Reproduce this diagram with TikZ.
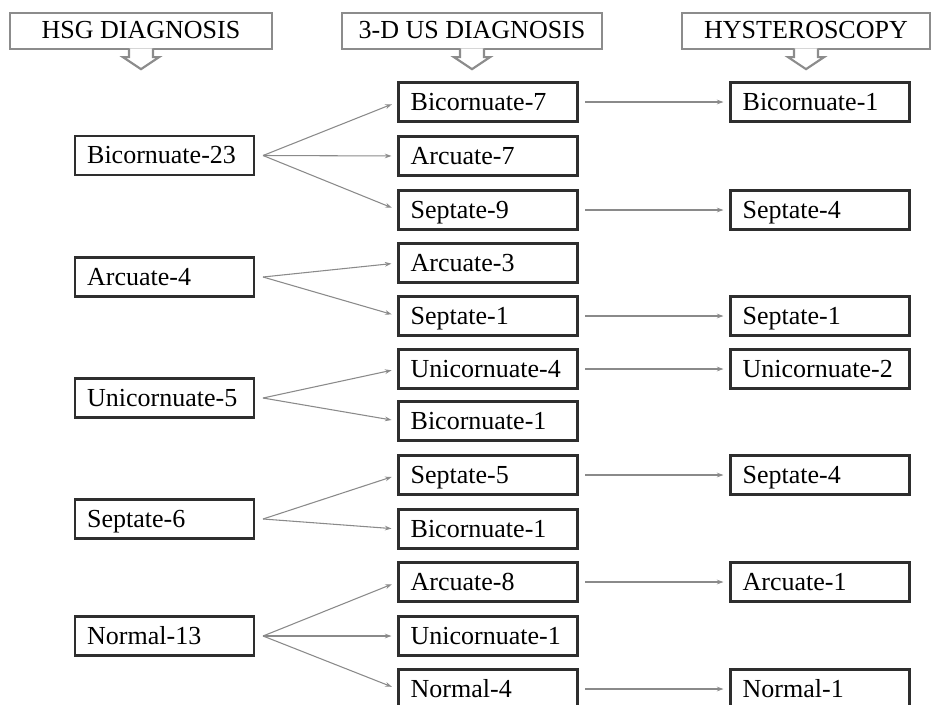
\documentclass[tikz,border=0pt]{standalone}
\usepackage{fontspec}
\setmainfont{Liberation Serif}
\usetikzlibrary{arrows.meta}
\definecolor{frame}{HTML}{2E2E2E}
\definecolor{wire}{HTML}{8A8A8A}
\definecolor{hdrline}{HTML}{8C8C8C}
\begin{document}
\begin{tikzpicture}[x=0.75pt, y=-0.75pt,
    box/.style={draw=frame, line width=1.8pt, text width=116pt, inner xsep=9pt,
      minimum height=29.5pt, align=left, text height=13.5pt, text depth=1pt,
      font=\fontsize{19.5}{21}\selectfont},
    hdr/.style={draw=hdrline, line width=1.6pt, minimum height=27pt,
      text height=13.5pt, text depth=3pt, font=\fontsize{19.5}{21}\selectfont},
    notch/.style={draw=hdrline, fill=white, line width=1.6pt},
    fan/.style={draw=wire, line width=0.8pt, -{Stealth[length=5pt,width=3.5pt]}, shorten >=4.5pt}]
  \useasboundingbox (0,0) rectangle (932,704);
  % headers
  \node[hdr, minimum width=196pt] (hsg) at (141,31) {HSG DIAGNOSIS};
  \node[hdr, minimum width=195pt] (us) at (472,31) {3-D US DIAGNOSIS};
  \node[hdr, minimum width=186pt] (hys) at (806,31) {HYSTEROSCOPY};
  \foreach \h in {hsg,us,hys}
    \draw[notch] ([xshift=-9pt,yshift=1.2pt]\h.south) -- ++(0,-6.5pt) -- ++(-4.5pt,0)
      -- ++(13.5pt,-9pt) -- ++(13.5pt,9pt) -- ++(-4.5pt,0) -- ++(0,6.5pt);
  % HSG column
  \node[box] (hsg1) at (164.5,155.5) {Bicornuate-23};
  \node[box] (hsg2) at (164.5,277) {Arcuate-4};
  \node[box] (hsg3) at (164.5,398) {Unicornuate-5};
  \node[box] (hsg4) at (164.5,519) {Septate-6};
  \node[box] (hsg5) at (164.5,636) {Normal-13};
  \foreach \i in {1,...,5}
    \coordinate (o\i) at ([xshift=6pt]hsg\i.east);
  % 3-D US column
  \node[box] (us1) at (488,102) {Bicornuate-7};
  \node[box] (us2) at (488,156) {Arcuate-7};
  \node[box] (us3) at (488,210) {Septate-9};
  \node[box] (us4) at (488,263) {Arcuate-3};
  \node[box] (us5) at (488,316) {Septate-1};
  \node[box] (us6) at (488,369) {Unicornuate-4};
  \node[box] (us7) at (488,421) {Bicornuate-1};
  \node[box] (us8) at (488,475) {Septate-5};
  \node[box] (us9) at (488,529) {Bicornuate-1};
  \node[box] (us10) at (488,582) {Arcuate-8};
  \node[box] (us11) at (488,636) {Unicornuate-1};
  \node[box] (us12) at (488,689) {Normal-4};
  % hysteroscopy column
  \node[box] (hys1) at (820,102) {Bicornuate-1};
  \node[box] (hys2) at (820,210) {Septate-4};
  \node[box] (hys3) at (820,316) {Septate-1};
  \node[box] (hys4) at (820,369) {Unicornuate-2};
  \node[box] (hys5) at (820,475) {Septate-4};
  \node[box] (hys6) at (820,582) {Arcuate-1};
  \node[box] (hys7) at (820,689) {Normal-1};
  % connectors
  \foreach \s/\t in {1/1,1/2,1/3,2/4,2/5,3/6,3/7,4/8,4/9,5/10,5/11,5/12}
    \draw[fan] (o\s) -- (us\t.west);
  \foreach \s/\t in {1/1,3/2,5/3,6/4,8/5,10/6,12/7}
    \draw[fan, shorten <=5pt] (us\s.east) -- (us\s.east -| hys\t.west);
\end{tikzpicture}
\end{document}
